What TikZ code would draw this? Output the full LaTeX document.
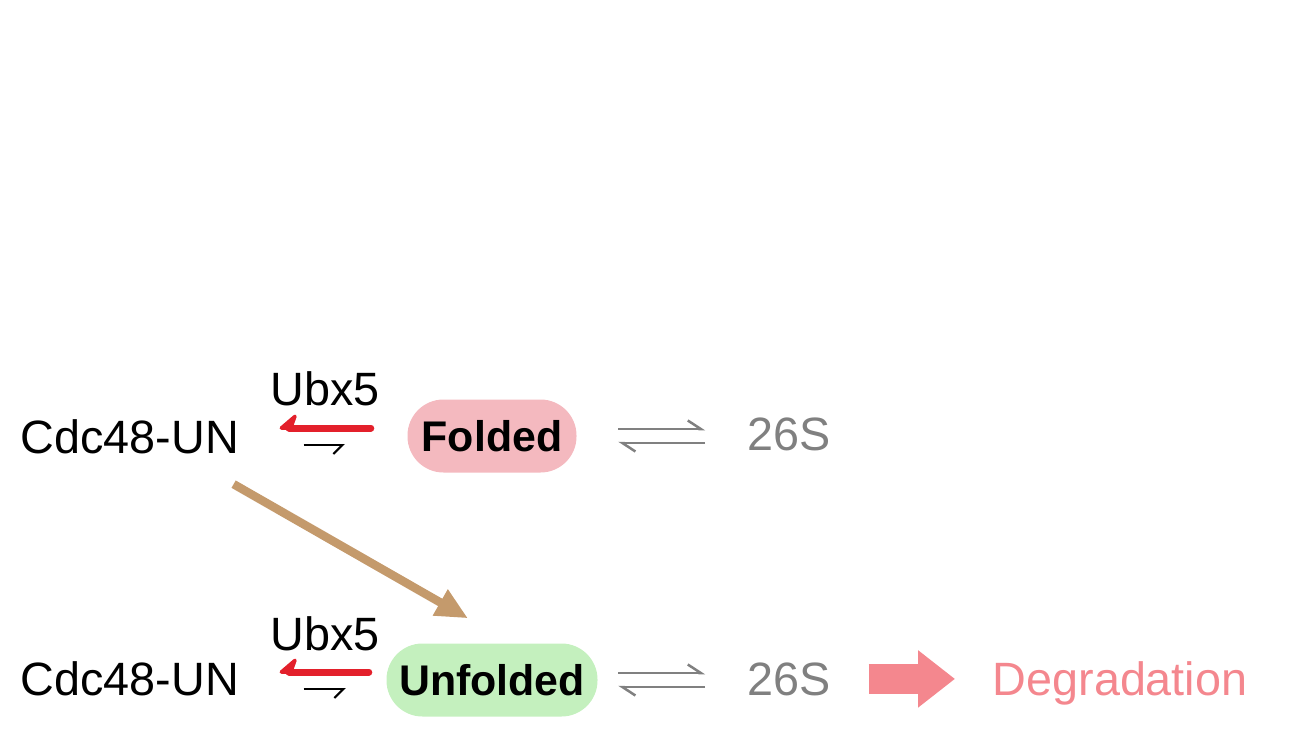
\documentclass[tikz,border=0pt]{standalone}
\usepackage{fontspec}
\setmainfont{Liberation Sans}
\usepackage{tikz}
\usetikzlibrary{arrows.meta,calc}
\usepackage{xcolor}
\definecolor{ubxred}{HTML}{E3202B}
\definecolor{foldpink}{HTML}{F4B9BF}
\definecolor{unfgreen}{HTML}{C4F0BE}
\definecolor{degpink}{HTML}{F4878E}
\definecolor{arrtan}{HTML}{C49A6C}
\definecolor{protgray}{HTML}{808080}

\begin{document}
\begin{tikzpicture}[
    every node/.style={inner sep=0pt, font=\fontsize{13.3}{16}\selectfont},
    pill/.style={rounded corners=0.36cm, minimum height=0.73cm, font=\fontsize{12.2}{15}\selectfont\bfseries},
    redharp/.style={draw=ubxred, line width=0.07cm, line cap=round, -{Stealth[harpoon, swap, round, length=0.2cm, width=0.34cm, inset=0.06cm]}},
    blkharp/.style={draw=black, line width=0.02cm, -{Straight Barb[harpoon, swap, length=0.09cm, width=0.18cm]}},
    eqharp/.style={draw=protgray, line width=0.025cm, -{Straight Barb[harpoon, length=0.13cm, width=0.17cm]}},
    tanarrow/.style={draw=arrtan, line width=0.085cm, -{Triangle[length=0.32cm, width=0.28cm]}},
    degarrow/.style={draw=degpink, line width=0.3cm, -{Triangle[length=0.37cm, width=0.55cm]}}]
        \useasboundingbox (0,0) rectangle (13.14,7.5);
        \node[anchor=base west] (cdcA) at (0.20,2.97) {Cdc48-UN};
        \node[anchor=base west] (ubxA) at (2.70,3.45) {Ubx5};
        \node[pill, fill=foldpink, minimum width=1.69cm] (foldA) at (4.92,3.14) {Folded};
        \node[anchor=base west, text=protgray] (sA) at (7.47,3.00) {26S};
        \node[anchor=base west] (cdcB) at (0.20,0.55) {Cdc48-UN};
        \node[anchor=base west] (ubxB) at (2.70,1.00) {Ubx5};
        \node[pill, fill=unfgreen, minimum width=2.11cm] (unfB) at (4.92,0.70) {Unfolded};
        \node[anchor=base west, text=protgray] (sB) at (7.47,0.55) {26S};
        \node[anchor=base west, text=degpink] (degr) at (9.92,0.55) {Degradation};
        \foreach \c/\p/\s/\ra/\ba/\ga in {cdcA/foldA/sA/0.36cm/0.62cm/0.41cm, cdcB/unfB/sB/0.17cm/0.40cm/0.20cm}{
        \draw[redharp, shorten <=\ra, shorten >=0.40cm] ($(\p.west)+(0,0.08)$) -- ($(\p.west -| \c.east)+(0,0.08)$);
        \draw[blkharp, shorten <=0.64cm, shorten >=\ba] ($(\p.west -| \c.east)+(0,-0.09)$) -- ($(\p.west)+(0,-0.09)$);
        \draw[eqharp, shorten <=\ga, shorten >=0.42cm] ($(\p.east)+(0,0.07)$) -- ($(\p.east -| \s.west)+(0,0.07)$);
        \draw[eqharp, shorten <=0.42cm, shorten >=\ga] ($(\p.east -| \s.west)+(0,-0.07)$) -- ($(\p.east)+(0,-0.07)$);}
        \draw[tanarrow] ($(cdcA.south east)+(-0.06,-0.30)$) -- ($(unfB.north)+(-0.24,0.245)$);
        \draw[degarrow, shorten <=0.37cm, shorten >=0.37cm] (sB.east) -- (sB.east -| degr.west);
    \end{tikzpicture}
\end{document}
